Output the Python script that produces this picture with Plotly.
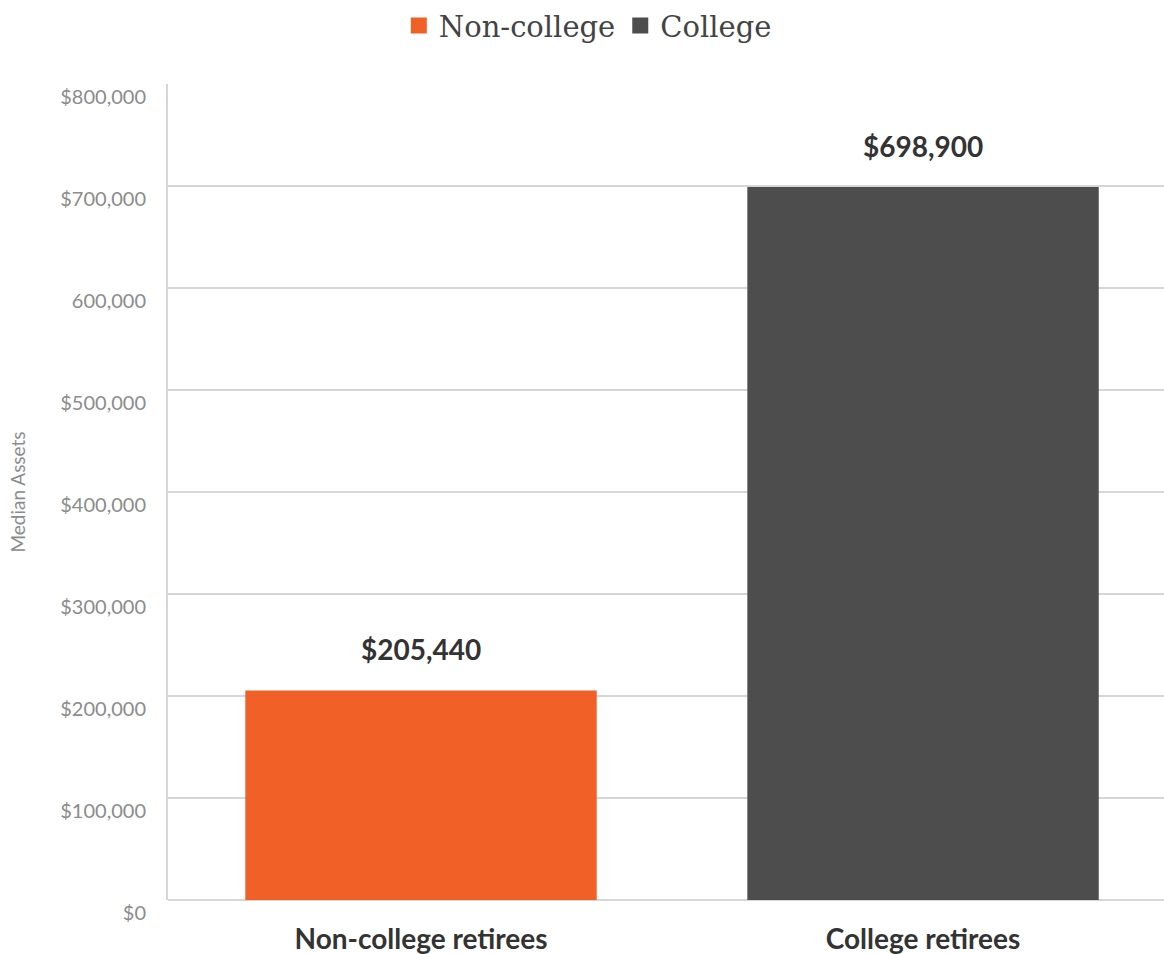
import plotly.graph_objects as go

categories = ["Non-college retirees", "College retirees"]
series_names = ["Non-college", "College"]
values = [205440, 698900]
value_labels = ["$205,440", "$698,900"]
colors = ["#F06027", "#4D4D4D"]
tick_vals = [0, 100000, 200000, 300000, 400000, 500000, 600000, 700000, 800000]
tick_text = ["$0", "$100,000", "$200,000", "$300,000", "$400,000", "$500,000",
             "600,000", "$700,000", "$800,000"]

fig = go.Figure()
for i in range(len(categories)):
    fig.add_trace(go.Bar(
        x=[categories[i]], y=[values[i]], name=series_names[i],
        marker=dict(color=colors[i], line=dict(width=0)),
        width=0.70, showlegend=False,
    ))
    fig.add_annotation(
        x=categories[i], y=values[i], text=value_labels[i],
        showarrow=False, yanchor="bottom", yshift=22,
        font=dict(family="Lato", size=28, color="#333333", weight="bold"),
    )
# legend entries
for i in range(len(series_names)):
    fig.add_trace(go.Scatter(
        x=[None], y=[None], mode="markers", name=series_names[i],
        marker=dict(symbol="square", size=20, color=colors[i]),
    ))

fig.update_layout(
    width=1164, height=954,
    margin=dict(l=168, r=0, t=84, b=54),
    paper_bgcolor="white", plot_bgcolor="white",
    barmode="overlay",
    showlegend=True,
    legend=dict(orientation="h", xref="container", yref="container",
                x=0.505, y=0.973, xanchor="center", yanchor="middle",
                font=dict(family="DejaVu Serif", size=29, color="#444444"),
                traceorder="normal", itemwidth=30, tracegroupgap=0),
    xaxis=dict(range=[-0.504, 1.48], showgrid=False, showline=False,
               tickfont=dict(family="Lato", size=28, color="#333333", weight="bold"),
               ticks="", ticklabelstandoff=20),
    yaxis=dict(range=[0, 800000], tickvals=tick_vals, ticktext=tick_text,
               tickfont=dict(family="Lato", size=20, color="#8C8C8C"),
               showgrid=True, gridcolor="#D6D6D6", gridwidth=2,
               showline=True, linecolor="#D6D6D6", linewidth=2,
               zeroline=True, zerolinecolor="#D6D6D6", zerolinewidth=2,
               ticks="", ticklabelshift=13, ticklabelstandoff=16,
               title=dict(text="Median Assets", standoff=30,
                          font=dict(family="Lato", size=19, color="#8C8C8C"))),
)
fig.write_html("out.html")
